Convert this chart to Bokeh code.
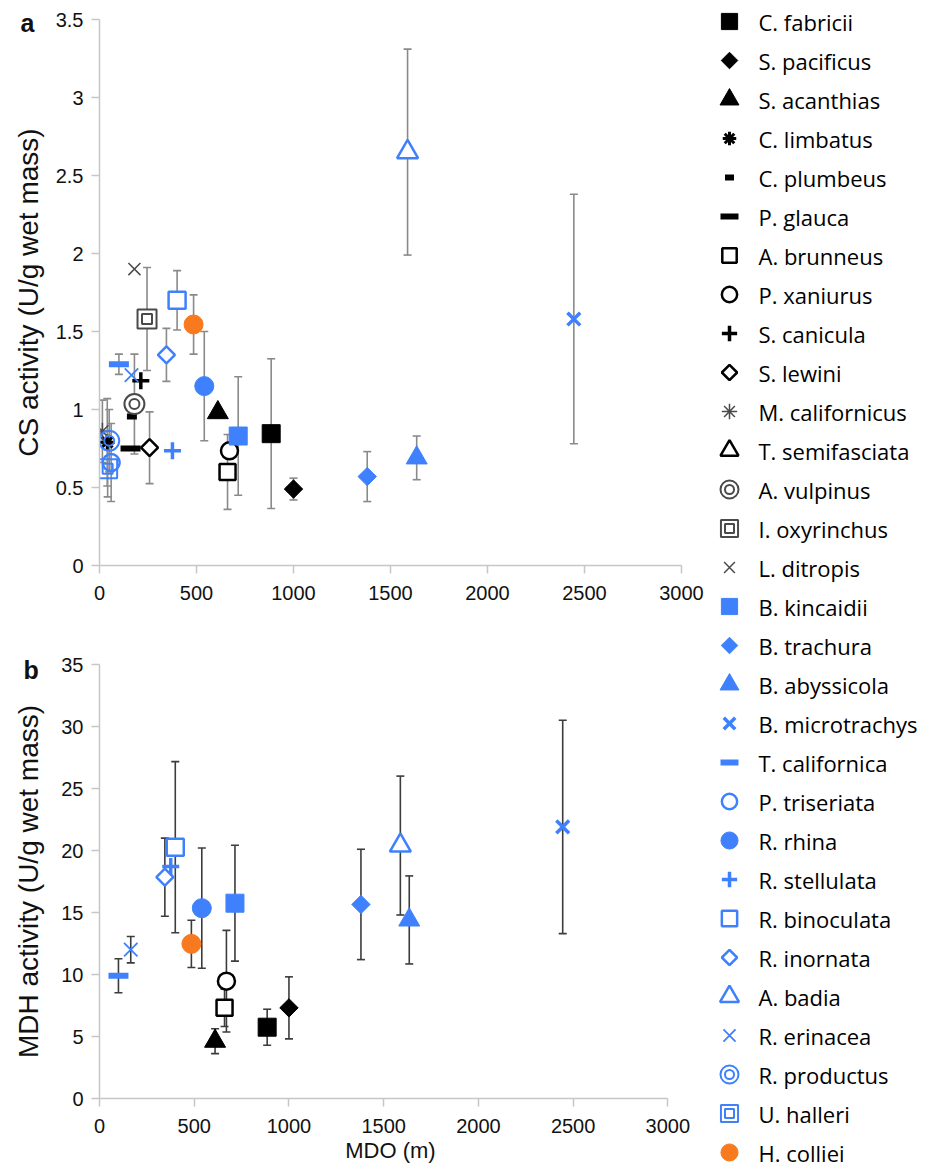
import math
from bokeh.plotting import figure
from bokeh.models import (ColumnDataSource, Whisker, TeeHead, Range1d, Title,
                          FixedTicker, CustomJSTickFormatter)
from bokeh.layouts import row, column
from bokeh.embed import file_html
from bokeh.resources import INLINE
from bokeh.core.properties import value

nan = float("nan")

# ---------------- data ----------------
species = ["C. fabricii", "S. pacificus", "S. acanthias", "C. limbatus", "C. plumbeus",
           "P. glauca", "A. brunneus", "P. xaniurus", "S. canicula", "S. lewini",
           "M. californicus", "T. semifasciata", "A. vulpinus", "I. oxyrinchus", "L. ditropis",
           "B. kincaidii", "B. trachura", "B. abyssicola", "B. microtrachys", "T. californica",
           "P. triseriata", "R. rhina", "R. stellulata", "R. binoculata", "R. inornata",
           "A. badia", "R. erinacea", "R. productus", "U. halleri", "H. colliei"]

mdo = [885, 1000, 610, 40, 167, 160, 660, 670, 213, 258,
       15, nan, 180, 245, 180, 715, 1380, 1635, 2445, 100,
       60, 540, 376, 400, 345, 1588, 165, 50, 42, 485]

cs = [0.845, 0.49, 0.98, 0.79, 0.955, 0.75, 0.60, 0.735, 1.185, 0.755,
      0.86, nan, 1.035, 1.58, 1.90, 0.83, 0.57, 0.69, 1.58, 1.29,
      0.66, 1.15, 0.735, 1.70, 1.35, 2.65, 1.22, 0.80, 0.62, 1.545]

cs_err = [0.48, 0.07, 0, 0.28, 0, 0, 0.24, 0, 0, 0.23,
          0.20, 0, 0.32, 0.33, 0, 0.38, 0.16, 0.14, 0.80, 0.065,
          0.25, 0.35, 0, 0.19, 0.17, 0.66, 0, 0.20, 0.18, 0.19]

mdh = [5.75, 7.31, 4.62, nan, nan, nan, 7.31, 9.46, nan, nan,
       nan, nan, nan, nan, nan, 15.75, 15.65, 14.4, 21.9, 9.9,
       nan, 15.35, 18.7, 20.27, 17.85, 20.4, 12.0, nan, nan, 12.47]

mdh_err = [1.45, 2.5, 1.0, 0, 0, 0, 1.5, 4.1, 0, 0,
           0, 0, 0, 0, 0, 4.67, 4.45, 3.55, 8.6, 1.37,
           0, 4.85, 0, 6.9, 3.15, 5.6, 1.06, 0, 0, 1.9]

x_ticks = [0, 500, 1000, 1500, 2000, 2500, 3000]
cs_ticks = [0, 0.5, 1, 1.5, 2, 2.5, 3, 3.5]
mdh_ticks = [0, 5, 10, 15, 20, 25, 30, 35]

# ---------------- styles ----------------
BLACK = "#000000"
BLUE = "#3F81FC"
GRAY = "#4a4a4a"
ORANGE = "#F8791E"
WHITE = "#ffffff"
D = math.pi / 4

# (marker, size, line_color, fill_color, line_width, angle)
STYLE = {
    "C. fabricii": [("square", 18, BLACK, BLACK, 1, 0)],
    "S. pacificus": [("square", 13, BLACK, BLACK, 1, D)],
    "S. acanthias": [("triangle", 21, BLACK, BLACK, 1, 0)],
    "C. limbatus": [("asterisk", 15, BLACK, None, 3, 0)],
    "C. plumbeus": [("dash", 10, BLACK, None, 6, 0)],
    "P. glauca": [("dash", 20, BLACK, None, 6, 0)],
    "A. brunneus": [("square", 16, BLACK, WHITE, 2.5, 0)],
    "P. xaniurus": [("circle", 17, BLACK, WHITE, 2.5, 0)],
    "S. canicula": [("cross", 17, BLACK, None, 3.5, 0)],
    "S. lewini": [("square", 12, BLACK, WHITE, 2.5, D)],
    "M. californicus": [("asterisk", 17, GRAY, None, 1.5, 0)],
    "T. semifasciata": [("triangle", 20, BLACK, WHITE, 2.5, 0)],
    "A. vulpinus": [("circle", 20, GRAY, WHITE, 2, 0), ("circle", 10, GRAY, None, 2, 0)],
    "I. oxyrinchus": [("square", 19, GRAY, WHITE, 2, 0), ("square", 10, GRAY, None, 2, 0)],
    "L. ditropis": [("x", 17, GRAY, None, 1.5, 0)],
    "B. kincaidii": [("square", 18, BLUE, BLUE, 1, 0)],
    "B. trachura": [("square", 13, BLUE, BLUE, 1, D)],
    "B. abyssicola": [("triangle", 21, BLUE, BLUE, 1, 0)],
    "B. microtrachys": [("x", 18, BLUE, None, 3.5, 0)],
    "T. californica": [("dash", 20, BLUE, None, 6, 0)],
    "P. triseriata": [("circle", 17, BLUE, None, 2.5, 0)],
    "R. rhina": [("circle", 19, BLUE, BLUE, 1, 0)],
    "R. stellulata": [("cross", 17, BLUE, None, 3.5, 0)],
    "R. binoculata": [("square", 17, BLUE, WHITE, 2.5, 0)],
    "R. inornata": [("square", 12, BLUE, WHITE, 2.5, D)],
    "A. badia": [("triangle", 21, BLUE, WHITE, 2.5, 0)],
    "R. erinacea": [("x", 19, BLUE, None, 1.8, 0)],
    "R. productus": [("circle", 20, BLUE, None, 2, 0), ("circle", 10, BLUE, None, 2, 0)],
    "U. halleri": [("square", 19, BLUE, None, 2, 0), ("square", 10, BLUE, None, 2, 0)],
    "H. colliei": [("circle", 19, ORANGE, ORANGE, 1, 0)],
}

TICK_FONT = "Liberation Sans"
AXIS_GRAY = "#c6c6c6"

fmt = CustomJSTickFormatter(code="return String(tick)")


def style_axes(p, yticks, ylab, ylab_standoff, xlab=None):
    p.xaxis.ticker = FixedTicker(ticks=x_ticks)
    p.yaxis.ticker = FixedTicker(ticks=yticks)
    p.xaxis.bounds = (x_ticks[0], x_ticks[-1])
    for ax in (p.xaxis[0], p.yaxis[0]):
        ax.formatter = fmt
        ax.axis_line_color = AXIS_GRAY
        ax.axis_line_width = 1.5
        ax.major_tick_line_color = AXIS_GRAY
        ax.major_tick_line_width = 1.5
        ax.major_tick_out = 8
        ax.major_tick_in = 0
        ax.minor_tick_line_color = None
        ax.major_label_text_font = TICK_FONT
        ax.major_label_text_font_size = "20px"
        ax.major_label_text_color = "#111111"
        ax.axis_label_text_font = TICK_FONT
        ax.axis_label_text_font_style = "normal"
        ax.axis_label_text_color = "#111111"
    p.xaxis.major_label_standoff = 12
    p.yaxis.major_label_standoff = 8
    p.yaxis.axis_label = ylab
    p.yaxis.axis_label_text_font_size = "28px"
    p.yaxis.axis_label_standoff = ylab_standoff
    if xlab:
        p.xaxis.axis_label = xlab
        p.xaxis.axis_label_text_font_size = "22px"
        p.xaxis.axis_label_standoff = 2
    p.xgrid.visible = False
    p.ygrid.visible = False
    p.outline_line_color = None


def add_errors(p, yvals, errs, color):
    xs, up, lo = [], [], []
    for x, y, e in zip(mdo, yvals, errs):
        if not (math.isnan(x) or math.isnan(y)) and e > 0:
            xs.append(x)
            up.append(y + e)
            lo.append(y - e)
    src = ColumnDataSource(dict(x=xs, upper=up, lower=lo))
    w = Whisker(base="x", upper="upper", lower="lower", source=src,
                line_color=color, line_width=1.6,
                upper_head=TeeHead(size=8, line_color=color, line_width=1.6),
                lower_head=TeeHead(size=8, line_color=color, line_width=1.6),
                level="underlay")
    p.add_layout(w)


def add_points(p, yvals):
    for name, x, y in zip(species, mdo, yvals):
        if math.isnan(x) or math.isnan(y):
            continue
        for (mk, sz, lc, fc, lw, ang) in STYLE[name]:
            p.scatter(x=[x], y=[y], marker=mk, size=sz, line_color=lc,
                      fill_color=fc, line_width=lw, angle=ang)


def panel_letter(letter, offset, standoff):
    return Title(text=letter, align="left", offset=offset, standoff=standoff,
                 vertical_align="bottom", text_font=TICK_FONT,
                 text_font_style="bold", text_font_size="25px",
                 text_color="#111111")


# ---------------- panel a ----------------
pa = figure(width=704, height=612, output_backend="svg", toolbar_location=None,
            x_range=Range1d(0, 3000), y_range=Range1d(0, 3.5),
            min_border_left=99, min_border_right=23,
            min_border_top=19, min_border_bottom=47)
pa.title = panel_letter("a", -79, -34)
style_axes(pa, cs_ticks, "CS activity (U/g wet mass)", 9)
add_errors(pa, cs, cs_err, "#8a8a8a")
add_points(pa, cs)

# ---------------- panel b ----------------
# panel b's x axis is a little shorter than panel a's: its range runs past 3000
pb = figure(width=704, height=560, output_backend="svg", toolbar_location=None,
            x_range=Range1d(0, 3072), y_range=Range1d(0, 35),
            min_border_left=99, min_border_right=23,
            min_border_top=52, min_border_bottom=74)
pb.title = panel_letter("b", -76, -38)
style_axes(pb, mdh_ticks, "MDH activity (U/g wet mass)", 14, xlab="MDO (m)")
add_errors(pb, mdh, mdh_err, "#3c3c3c")
add_points(pb, mdh)

# ---------------- legend ----------------
LW, LH = 230, 1172
pl = figure(width=LW, height=LH, output_backend="svg", toolbar_location=None,
            x_range=Range1d(0, LW), y_range=Range1d(LH, 0),
            x_axis_type=None, y_axis_type=None, min_border=0)
pl.xgrid.visible = False
pl.ygrid.visible = False
pl.outline_line_color = None
LEG_X, LEG_TX, LEG_Y0, LEG_STEP = 25, 54, 21, 39.0
for i, name in enumerate(species):
    yy = LEG_Y0 + i * LEG_STEP
    for (mk, sz, lc, fc, lw, ang) in STYLE[name]:
        pl.scatter(x=[LEG_X], y=[yy], marker=mk, size=sz * 0.9, line_color=lc,
                   fill_color=fc, line_width=lw, angle=ang)
    pl.text(x=[LEG_TX], y=[yy], text=[name], text_font=value("Open Sans"),
            text_font_size="22px", text_baseline="middle", text_color="#000000")

layout = row(column(pa, pb), pl)

with open("out.html", "w") as f:
    f.write(file_html(layout, INLINE))
